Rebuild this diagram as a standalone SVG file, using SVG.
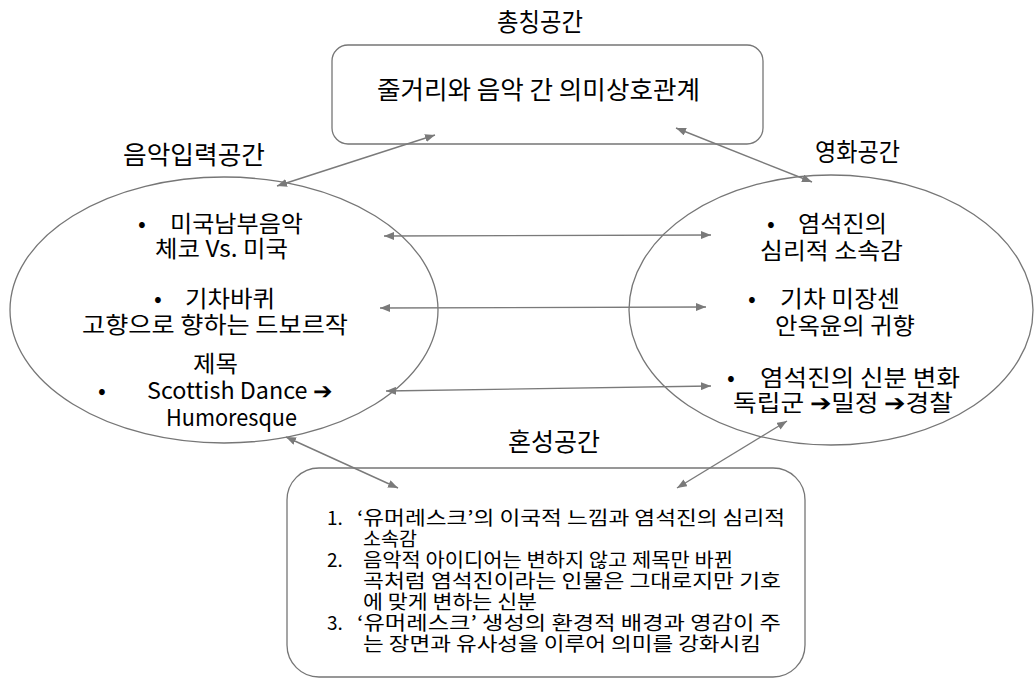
<svg xmlns="http://www.w3.org/2000/svg" width="1035" height="679" viewBox="0 0 1035 679">
  <defs>
    <style>
      .t { font-family: "Noto Sans CJK KR", "Noto Sans", sans-serif; fill: #000; }
      .lg { font-size: 25px; }
      .md { font-size: 23px; }
      .sm { font-size: 19px; }
      .shape { fill: #fff; stroke: #767676; stroke-width: 1.3; }
      .link { stroke: #7a7a7a; stroke-width: 1.4; fill: none; marker-start: url(#head); marker-end: url(#head); }
    </style>
    <marker id="head" viewBox="0 0 10 8" refX="10" refY="4" markerWidth="10" markerHeight="8" markerUnits="userSpaceOnUse" orient="auto-start-reverse">
      <path d="M0,0 L10,4 L0,8 z" fill="#7a7a7a"/>
    </marker>
  </defs>
  <rect width="1035" height="679" fill="#fff"/>

  <!-- generic space -->
  <g id="generic">
    <text class="t lg" x="497" y="31" textLength="86" lengthAdjust="spacingAndGlyphs">총칭공간</text>
    <rect class="shape" x="332" y="45" width="431" height="99" rx="16"/>
    <text class="t lg" x="377" y="99" textLength="323" lengthAdjust="spacingAndGlyphs">줄거리와 음악 간 의미상호관계</text>
  </g>

  <!-- music input space -->
  <g id="music">
    <text class="t lg" x="123" y="164" textLength="142" lengthAdjust="spacingAndGlyphs">음악입력공간</text>
    <ellipse class="shape" cx="224" cy="310" rx="214" ry="133"/>
    <text class="t md" x="138" y="232">•</text>
    <text class="t md" x="170" y="232" textLength="133" lengthAdjust="spacingAndGlyphs">미국남부음악</text>
    <text class="t md" x="155" y="257" textLength="133" lengthAdjust="spacingAndGlyphs">체코 Vs. 미국</text>
    <text class="t md" x="154" y="307">•</text>
    <text class="t md" x="185" y="307" textLength="90" lengthAdjust="spacingAndGlyphs">기차바퀴</text>
    <text class="t md" x="82" y="333" textLength="266" lengthAdjust="spacingAndGlyphs">고향으로 향하는 드보르작</text>
    <text class="t md" x="193" y="372" textLength="45" lengthAdjust="spacingAndGlyphs">제목</text>
    <text class="t md" x="98" y="399">•</text>
    <text class="t md" x="147" y="399" textLength="185" lengthAdjust="spacingAndGlyphs">Scottish Dance ➔</text>
    <text class="t md" x="166" y="426" textLength="131" lengthAdjust="spacingAndGlyphs">Humoresque</text>
  </g>

  <!-- film space -->
  <g id="film">
    <text class="t lg" x="815" y="161" textLength="85" lengthAdjust="spacingAndGlyphs">영화공간</text>
    <ellipse class="shape" cx="831" cy="310" rx="202" ry="135"/>
    <text class="t md" x="767" y="232">•</text>
    <text class="t md" x="798" y="232" textLength="89" lengthAdjust="spacingAndGlyphs">염석진의</text>
    <text class="t md" x="760" y="259" textLength="143" lengthAdjust="spacingAndGlyphs">심리적 소속감</text>
    <text class="t md" x="748" y="307">•</text>
    <text class="t md" x="780" y="307" textLength="120" lengthAdjust="spacingAndGlyphs">기차 미장센</text>
    <text class="t md" x="775" y="334" textLength="140" lengthAdjust="spacingAndGlyphs">안옥윤의 귀향</text>
    <text class="t md" x="727" y="386">•</text>
    <text class="t md" x="760" y="386" textLength="200" lengthAdjust="spacingAndGlyphs">염석진의 신분 변화</text>
    <text class="t md" x="733" y="411" textLength="220" lengthAdjust="spacingAndGlyphs">독립군 ➔밀정 ➔경찰</text>
  </g>

  <!-- blended space -->
  <g id="blend">
    <text class="t lg" x="508" y="451" textLength="92" lengthAdjust="spacingAndGlyphs">혼성공간</text>
    <rect class="shape" x="287" y="468" width="518" height="209" rx="32"/>
    <text class="t sm" x="327" y="525">1.</text>
    <text class="t sm" x="357" y="525" textLength="428" lengthAdjust="spacingAndGlyphs">‘유머레스크’의 이국적 느낌과 염석진의 심리적</text>
    <text class="t sm" x="363" y="546" textLength="54" lengthAdjust="spacingAndGlyphs">소속감</text>
    <text class="t sm" x="327" y="567">2.</text>
    <text class="t sm" x="363" y="567" textLength="370" lengthAdjust="spacingAndGlyphs">음악적 아이디어는 변하지 않고 제목만 바뀐</text>
    <text class="t sm" x="363" y="588" textLength="418" lengthAdjust="spacingAndGlyphs">곡처럼 염석진이라는 인물은 그대로지만 기호</text>
    <text class="t sm" x="363" y="609" textLength="174" lengthAdjust="spacingAndGlyphs">에 맞게 변하는 신분</text>
    <text class="t sm" x="327" y="630">3.</text>
    <text class="t sm" x="357" y="630" textLength="424" lengthAdjust="spacingAndGlyphs">‘유머레스크’ 생성의 환경적 배경과 영감이 주</text>
    <text class="t sm" x="363" y="651" textLength="398" lengthAdjust="spacingAndGlyphs">는 장면과 유사성을 이루어 의미를 강화시킴</text>
  </g>

  <!-- connectors -->
  <g id="connectors">
    <line class="link" x1="277" y1="186" x2="435" y2="135"/>
    <line class="link" x1="676" y1="128" x2="812" y2="182"/>
    <line class="link" x1="384" y1="236" x2="711" y2="235"/>
    <line class="link" x1="380" y1="308" x2="706" y2="307"/>
    <line class="link" x1="386" y1="391" x2="711" y2="386"/>
    <line class="link" x1="286" y1="437" x2="398" y2="488"/>
    <line class="link" x1="677" y1="488" x2="787" y2="421"/>
  </g>
</svg>
